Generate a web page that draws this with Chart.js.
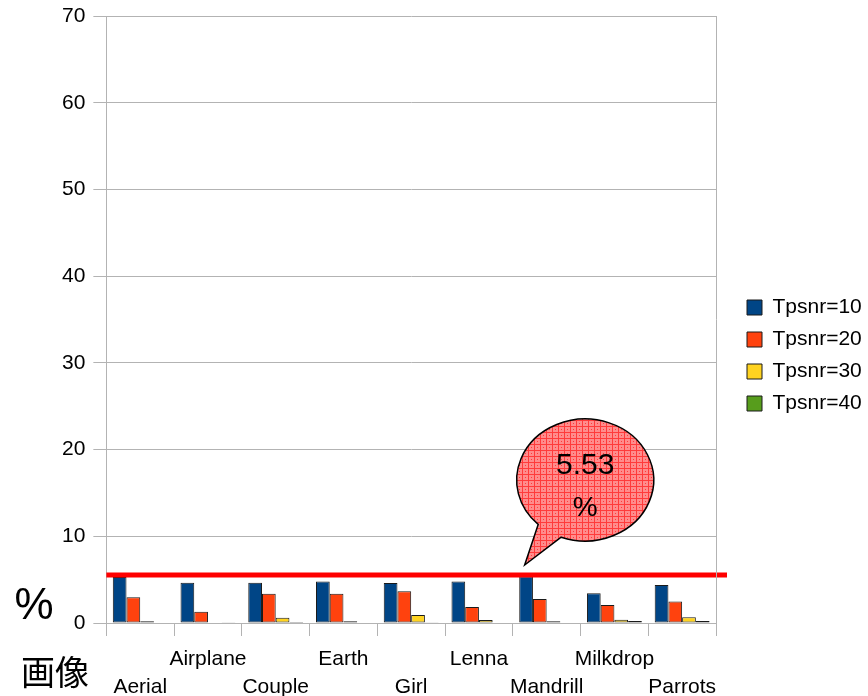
<!DOCTYPE html>
<html>
<head>
<meta charset="utf-8">
<script src="https://cdn.jsdelivr.net/npm/chart.js@4.4.1/dist/chart.umd.min.js"></script>
<style>
  html, body { margin: 0; padding: 0; background: #ffffff; }
  #wrap { width: 868px; height: 696px; }
</style>
</head>
<body>
<div id="wrap"><canvas id="c" width="868" height="696"></canvas></div>
<script>
// Image names (x categories)
const images = ['Aerial', 'Airplane', 'Couple', 'Earth', 'Girl', 'Lenna', 'Mandrill', 'Milkdrop', 'Parrots'];

// Percentage per image for each PSNR threshold
const tpsnr10 = [5.30, 4.65, 4.65, 4.80, 4.60, 4.80, 5.40, 3.42, 4.39];
const tpsnr20 = [2.96, 1.30, 3.38, 3.38, 3.65, 1.85, 2.77, 2.08, 2.49];
const tpsnr30 = [0.19, 0.05, 0.61, 0.19, 0.92, 0.35, 0.19, 0.38, 0.65];
const tpsnr40 = [0.05, 0.02, 0.01, 0.05, 0.02, 0.05, 0.05, 0.23, 0.23];

const seriesNames = ['Tpsnr=10', 'Tpsnr=20', 'Tpsnr=30', 'Tpsnr=40'];
const seriesColors = ['#004586', '#ff420e', '#ffd320', '#579d1c'];

// Y axis range and reference value marked by the red line
const yTicks = [0, 10, 20, 30, 40, 50, 60, 70];
const threshold = 5.53;
const calloutText = ['5.53', '%'];

// Category labels alternate between two rows
const xLabels = images.map((name, i) => (i % 2 === 0 ? ['', name] : [name, '']));

const FONT = '"Liberation Sans", Arial, sans-serif';
const LEGEND_WIDTH = 132;

function makeHatch() {
  const t = document.createElement('canvas');
  t.width = 6; t.height = 6;
  const g = t.getContext('2d');
  g.fillStyle = '#ff8c8c';
  g.fillRect(0, 0, 6, 6);
  g.fillStyle = '#ff3b3b';
  g.fillRect(0, 0, 6, 1);
  g.fillRect(0, 0, 1, 6);
  g.fillRect(3, 3, 1, 1);
  return t;
}

// Fixed-width legend column on the right
const legendWidthPlugin = {
  id: 'legendWidth',
  beforeUpdate(chart) {
    const lg = chart.legend;
    if (lg && !lg._fixedFit) {
      const fit = lg.fit;
      lg.fit = function () { fit.call(this); this.width = LEGEND_WIDTH; };
      lg._fixedFit = true;
    }
  }
};

// Red reference line, speech bubble and the free-standing axis captions
const overlayPlugin = {
  id: 'overlay',
  afterDatasetsDraw(chart) {
    const { ctx, chartArea } = chart;
    const x = chart.scales.x;
    const y = chart.scales.y;
    const ly = y.getPixelForValue(threshold);

    ctx.save();
    ctx.strokeStyle = '#ff0000';
    ctx.lineWidth = 5;
    ctx.beginPath();
    ctx.moveTo(chartArea.left, ly);
    ctx.lineTo(chartArea.right + 11, ly);
    ctx.stroke();

    // speech bubble pointing at the line
    const tipX = x.getPixelForValue(6) - 22;
    const tipY = ly - 10;
    const cx = tipX + 60.5, cy = tipY - 85;
    const rx = 68.5, ry = 61;
    const a1 = 110.5 * Math.PI / 180, a2 = 133.3 * Math.PI / 180;
    ctx.beginPath();
    ctx.ellipse(cx, cy, rx, ry, 0, a1, a2, true);
    ctx.lineTo(tipX, tipY);
    ctx.closePath();
    ctx.fillStyle = ctx.createPattern(makeHatch(), 'repeat');
    ctx.fill();
    ctx.strokeStyle = '#000000';
    ctx.lineWidth = 1.5;
    ctx.stroke();

    ctx.fillStyle = '#000000';
    ctx.textAlign = 'center';
    ctx.textBaseline = 'middle';
    ctx.font = '30px ' + FONT;
    ctx.fillText(calloutText[0], cx, cy - 14);
    ctx.font = '28px ' + FONT;
    ctx.fillText(calloutText[1], cx, cy + 28);

    // axis captions
    ctx.font = '44px ' + FONT;
    ctx.textAlign = 'center';
    ctx.textBaseline = 'alphabetic';
    ctx.fillText('%', 34, chartArea.bottom - 4);
    ctx.font = '34px "Noto Sans CJK JP", sans-serif';
    ctx.textAlign = 'left';
    ctx.textBaseline = 'middle';
    ctx.fillText('画像', 21, 672);

    // right border of plot area
    ctx.strokeStyle = '#b3b3b3';
    ctx.lineWidth = 1;
    ctx.beginPath();
    ctx.moveTo(chartArea.right + 0.5, chartArea.top);
    ctx.lineTo(chartArea.right + 0.5, chartArea.bottom);
    ctx.stroke();
    ctx.restore();
  }
};

const datasets = [tpsnr10, tpsnr20, tpsnr30, tpsnr40].map((d, i) => ({
  label: seriesNames[i],
  data: d,
  backgroundColor: seriesColors[i],
  borderColor: '#1a1a1a',
  borderWidth: 1,
  borderSkipped: false,
  categoryPercentage: 0.81,
  barPercentage: 1.0
}));

new Chart(document.getElementById('c'), {
  type: 'bar',
  data: { labels: xLabels, datasets },
  plugins: [legendWidthPlugin, overlayPlugin],
  options: {
    responsive: false,
    animation: false,
    devicePixelRatio: 1,
    layout: { padding: { left: 54, top: 0, right: 0, bottom: 0 } },
    plugins: {
      legend: {
        position: 'right',
        title: { display: true, text: '', font: { size: 1, lineHeight: 1 }, padding: 7 },
        labels: {
          font: { family: FONT, size: 21 },
          color: '#000000',
          boxWidth: 15,
          boxHeight: 15,
          padding: 11,
          useBorderRadius: false
        }
      },
      tooltip: { enabled: false }
    },
    scales: {
      x: {
        grid: { display: true, drawOnChartArea: false, offset: true, tickLength: 13, color: '#b3b3b3' },
        border: { color: '#b3b3b3' },
        ticks: {
          autoSkip: false,
          maxRotation: 0,
          minRotation: 0,
          padding: 10,
          color: '#000000',
          font: { family: FONT, size: 21, lineHeight: 1.3 }
        },
        afterFit(axis) { axis.height = 73; }
      },
      y: {
        min: yTicks[0],
        max: yTicks[yTicks.length - 1],
        afterBuildTicks(axis) { axis.ticks = yTicks.map(v => ({ value: v })); },
        afterFit(axis) { axis.paddingTop = 16; axis.paddingBottom = 0; },
        grid: { color: '#b3b3b3', tickLength: 13 },
        border: { color: '#b3b3b3' },
        ticks: {
          padding: 8,
          color: '#000000',
          font: { family: FONT, size: 21 }
        }
      },
      yR: {
        position: 'right',
        min: 0,
        max: 70,
        grid: { drawOnChartArea: false, drawTicks: false },
        border: { display: false },
        ticks: { display: false },
        afterFit(axis) { axis.width = 20; }
      }
    }
  }
});
</script>
</body>
</html>
